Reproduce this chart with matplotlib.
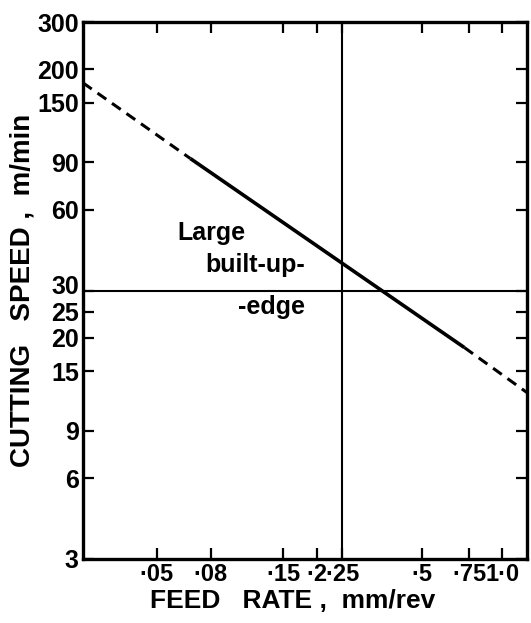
import matplotlib
matplotlib.use("Agg")
import matplotlib.pyplot as plt
import matplotlib.transforms as mtransforms
from matplotlib.ticker import FixedLocator, FixedFormatter, NullLocator

plt.rcParams['font.family'] = ['Liberation Sans Narrow', 'Liberation Sans', 'DejaVu Sans']
plt.rcParams['font.weight'] = 'bold'

# Data
x_ticks = [0.05, 0.08, 0.15, 0.2, 0.25, 0.5, 0.75, 1.0]
x_tick_labels = ['·05', '·08', '·15', '·2', '·25', '·5', '·75', '1·0']
y_ticks = [3, 6, 9, 15, 20, 25, 30, 60, 90, 150, 200, 300]
y_tick_labels = ['3', '6', '9', '15', '20', '25', '30', '60', '90', '150', '200', '300']

solid_feed = [0.067, 0.72]
solid_speed = [93, 18.4]
dash_left_feed = [0.0264, 0.067]
dash_left_speed = [178, 93]
dash_right_feed = [0.72, 1.24]
dash_right_speed = [18.4, 12.5]

ref_feed = 0.25
ref_speed = 30

fig = plt.figure(figsize=(5.31, 6.23), dpi=100)
ax = fig.add_axes([83/531, 1-559/623, (527-83)/531, (559-22)/623])
ax.set_xscale('log')
ax.set_yscale('log')
ax.set_xlim(0.0264, 1.24)
ax.set_ylim(3, 300)

ax.plot(solid_feed, solid_speed, color='black', lw=2.6, solid_capstyle='butt')
ax.plot(dash_left_feed, dash_left_speed, color='black', lw=2.2, ls=(0, (3.5, 2.3)))
ax.plot(dash_right_feed, dash_right_speed, color='black', lw=2.2, ls=(0, (3.5, 2.3)))
ax.axvline(ref_feed, color='black', lw=1.5)
ax.axhline(ref_speed, color='black', lw=1.5)

ax.text(0.060, 49, 'Large', fontsize=18, fontweight='bold', va='center', ha='left')
ax.text(0.076, 37.3, 'built-up-', fontsize=18, fontweight='bold', va='center', ha='left')
ax.text(0.101, 26, '-edge', fontsize=18, fontweight='bold', va='center', ha='left')

ax.xaxis.set_major_locator(FixedLocator(x_ticks))
ax.xaxis.set_major_formatter(FixedFormatter(x_tick_labels))
ax.xaxis.set_minor_locator(NullLocator())
ax.yaxis.set_major_locator(FixedLocator(y_ticks))
ax.yaxis.set_major_formatter(FixedFormatter(y_tick_labels))
ax.yaxis.set_minor_locator(NullLocator())

ax.tick_params(axis='both', which='major', direction='in', length=8, width=1.6,
               top=True, right=True, pad=3)
ax.tick_params(axis='y', labelsize=18)
ax.tick_params(axis='x', labelsize=17, pad=3)
for s in ax.spines.values():
    s.set_linewidth(2.4)

ax.set_xlabel('FEED   RATE ,  mm/rev', fontsize=19, fontweight='bold')
ax.set_ylabel('CUTTING   SPEED ,  m/min', fontsize=20, fontweight='bold')
ax.xaxis.set_label_coords((293-83)/444, -(601-559)/537)
ax.yaxis.set_label_coords(-(83-23)/444, 0.5)
ax.xaxis.label.set_va('center')
ax.yaxis.label.set_va('center')

# raise the "30" label slightly, as in the original drawing
fig.canvas.draw()
offset = mtransforms.ScaledTranslation(0, 6/100, fig.dpi_scale_trans)
for tick in ax.yaxis.get_major_ticks():
    if tick.label1.get_text() == '30':
        tick.label1.set_transform(tick.label1.get_transform() + offset)

fig.savefig('out.png', dpi=100)
